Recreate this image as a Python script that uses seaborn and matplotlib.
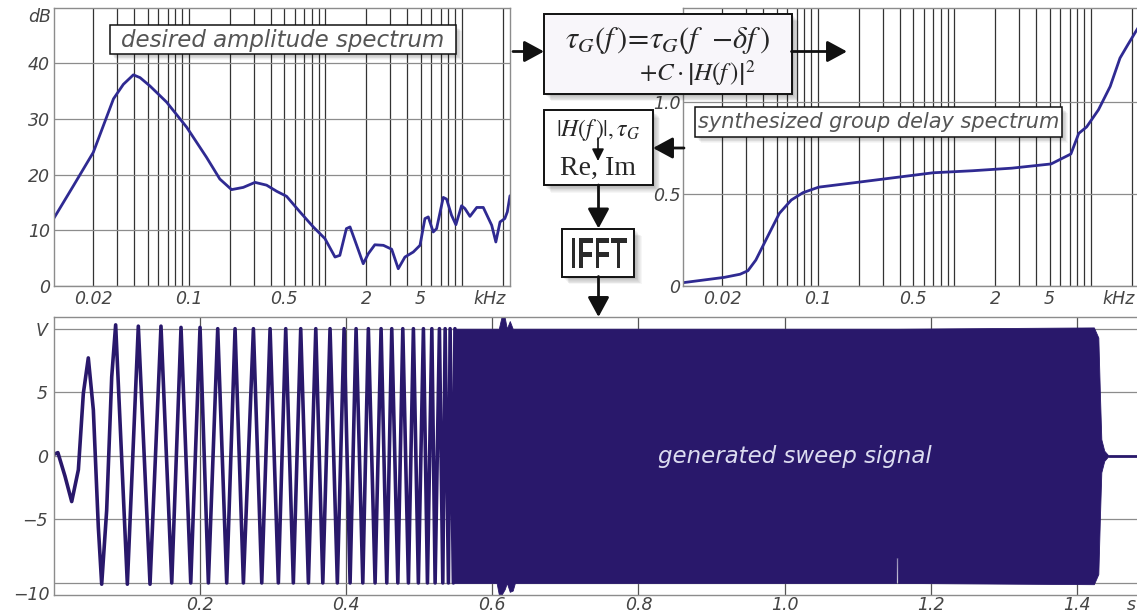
import matplotlib
matplotlib.use("Agg")
import matplotlib.pyplot as plt
import matplotlib.ticker as mticker
from matplotlib.patches import Rectangle, PathPatch
from matplotlib.textpath import TextPath
from matplotlib.font_manager import FontProperties
from matplotlib.transforms import Affine2D
import numpy as np
import seaborn as sns

# desired amplitude spectrum (kHz, dB)
amp_freq = [0.0103, 0.0143, 0.020, 0.0281, 0.0332, 0.0393, 0.044, 0.052, 0.0689, 0.0966,
            0.135, 0.169, 0.206, 0.251, 0.306, 0.372, 0.441, 0.521, 0.653, 0.818,
            0.996, 1.18, 1.28, 1.43, 1.52, 1.65, 1.90, 2.07, 2.31, 2.67,
            3.07, 3.43, 3.84, 4.42, 4.95, 5.38, 5.69, 6.19, 6.55, 7.33,
            7.75, 8.43, 9.07, 9.98, 10.56, 11.5, 12.9, 14.4, 16.6, 17.8,
            19.1, 20.7, 21.6, 22.6]
amp_db = [12.2, 18.0, 24.0, 33.6, 36.2, 37.9, 37.4, 35.9, 33.0, 28.5,
          23.1, 19.2, 17.3, 17.7, 18.6, 18.1, 17.0, 16.1, 13.3, 10.6,
          8.5, 5.2, 5.5, 10.3, 10.6, 8.2, 4.0, 5.8, 7.4, 7.3,
          6.6, 3.1, 5.2, 6.1, 7.3, 12.1, 12.4, 9.7, 10.3, 15.9,
          15.6, 12.7, 11.0, 14.4, 13.9, 12.5, 14.1, 14.1, 10.9, 7.9,
          11.5, 12.1, 13.3, 16.2]

# synthesized group delay spectrum (kHz, s)
gd_freq = [0.0103, 0.0207, 0.0270, 0.0308, 0.0352, 0.0429, 0.0524, 0.0640, 0.0780, 0.1018,
           0.1854, 0.360, 0.700, 1.36, 2.64, 5.13, 7.16, 8.18, 9.34, 11.4,
           13.9, 16.4, 18.7, 21.4, 22.6]
gd_delay = [0.018, 0.047, 0.064, 0.083, 0.141, 0.268, 0.395, 0.467, 0.507, 0.537,
            0.561, 0.588, 0.615, 0.626, 0.640, 0.663, 0.717, 0.829, 0.864, 0.957,
            1.084, 1.238, 1.310, 1.382, 1.41]

# generated sweep: resolved oscillation extrema (s, V)
sweep_t = [0.0, 0.006, 0.0157, 0.0249, 0.034, 0.0408, 0.0476, 0.0545, 0.0613, 0.0659,
           0.0727, 0.0796, 0.085, 0.101, 0.116, 0.132, 0.147, 0.1617, 0.1744, 0.1877,
           0.2004, 0.2118, 0.2246, 0.2369, 0.2483, 0.2597, 0.2734, 0.2848, 0.2962, 0.3075,
           0.3176, 0.3280, 0.3381, 0.3486, 0.3587, 0.3683, 0.3782, 0.3882, 0.3974, 0.4056,
           0.4138, 0.4230, 0.4306, 0.4398, 0.4480, 0.4558, 0.4626, 0.4709, 0.4777, 0.4854,
           0.4922, 0.4990, 0.5059, 0.5114, 0.5174, 0.5219, 0.5278, 0.5324, 0.5356, 0.5401,
           0.5424, 0.5469, 0.549]
sweep_v = [0.1, 0.25, -1.6, -3.6, -1.1, 4.9, 7.7, 3.6, -5.6, -10.1,
           -4.3, 6.2, 10.3, -10.1, 10.2, -10.1, 10.2, -10.0, 10.1, -10.0,
           10.1, -10.0, 10.0, -10.0, 10.0, -10.0, 10.0, -10.0, 10.0, -10.0,
           10.0, -10.0, 10.0, -10.0, 10.0, -10.0, 10.0, -10.0, 10.0, -10.0,
           10.0, -10.0, 10.0, -10.0, 10.0, -10.0, 10.0, -10.0, 10.0, -10.0,
           10.0, -10.0, 10.0, -10.0, 10.0, -10.0, 10.0, -10.0, 10.0, -10.0,
           10.0, -10.0, 10.0]

# generated sweep: envelope of the unresolved part (s, V)
env_t = [0.5475, 0.606, 0.609, 0.613, 0.617, 0.620, 0.624, 0.628, 0.631, 1.1525,
         1.1527, 1.1545, 1.1547, 1.4228, 1.4289, 1.4310, 1.4330, 1.4370, 1.443]
env_hi = [10.0, 10.0, 10.0, 11.0, 10.9, 10.0, 10.6, 10.0, 10.0, 10.0,
          10.0, 10.0, 10.0, 10.1, 9.3, 5.0, 1.3, 0.4, 0.0]
env_lo = [-10.0, -10.0, -10.9, -10.9, -10.5, -10.0, -10.7, -10.6, -10.0, -10.0,
          -8.0, -8.0, -10.0, -10.1, -9.3, -5.0, -1.3, -0.4, 0.0]
tail_t = [1.443, 1.49]
tail_v = [0.0, 0.0]

freq_ticks = [0.02, 0.1, 0.5, 2, 5, 16]
freq_labels = ["0.02", "0.1", "0.5", "2", "5", "kHz"]
db_ticks = [0, 10, 20, 30, 40]
db_labels = ["0", "10", "20", "30", "40"]
gd_ticks = [0, 0.5, 1.0]
gd_labels = ["0", "0.5", "1.0"]
time_grid = [0.2, 0.4, 0.6, 0.8, 1.0, 1.2, 1.4]
time_ticks = [0.2, 0.4, 0.6, 0.8, 1.0, 1.2, 1.4, 1.474]
time_labels = ["0.2", "0.4", "0.6", "0.8", "1.0", "1.2", "1.4", "s"]
volt_grid = [-10, -5, 0, 5, 10]
volt_ticks = [10, 5, 0, -5]
volt_labels = ["V", "5", "0", "\u22125"]

sns.set_style("white")
plt.rcParams["font.family"] = ["DejaVu Sans"]
plt.rcParams["mathtext.fontset"] = "stix"

W, H = 1137, 616
CURVE = "#2f2a92"
SWEEP = "#29186b"
LABEL = "#454545"
SPINE = "#8c8c8c"

fig = plt.figure(figsize=(W / 100, H / 100), dpi=100)


def px_axes(x0, y0, x1, y1):
    return fig.add_axes([x0 / W, 1 - y1 / H, (x1 - x0) / W, (y1 - y0) / H])


def frame(ax):
    for sp in ax.spines.values():
        sp.set_visible(True)
        sp.set_color(SPINE)
        sp.set_linewidth(1.0)
    ax.tick_params(which="both", length=0, labelsize=12.5, labelcolor=LABEL)
    ax.set_xlabel("")
    ax.set_ylabel("")
    ax.set_axisbelow(True)


def spectrum_axes(ax):
    ax.set_xscale("log")
    ax.set_xlim(0.0103, 22.6)
    ax.set_xticks(freq_ticks, freq_labels, fontstyle="italic")
    ax.xaxis.set_minor_locator(mticker.LogLocator(base=10, subs=np.arange(1, 10), numticks=60))
    ax.xaxis.set_minor_formatter(mticker.NullFormatter())
    ax.xaxis.remove_overlapping_locs = False
    ax.grid(False)
    ax.grid(which="minor", axis="x", color="#333333", lw=0.9)
    ax.grid(which="major", axis="y", color=SPINE, lw=0.9)
    frame(ax)
    ax.tick_params(axis="x", pad=3)
    ax.tick_params(axis="y", pad=3)


# top left: desired amplitude spectrum
axl = px_axes(54, 8, 510, 286)
spectrum_axes(axl)
sns.lineplot(x=amp_freq, y=amp_db, ax=axl, color=CURVE, lw=2.0, estimator=None)
axl.set_ylim(0, 49.9)
axl.set_yticks(db_ticks, db_labels, fontstyle="italic")
axl.set_xlim(0.0103, 22.6)
axl.annotate("dB", xy=(0, 48.2), xycoords=("axes fraction", "data"), xytext=(-2, 0),
             textcoords="offset points", ha="right", va="center", fontsize=12.5,
             color=LABEL, fontstyle="italic")

# top right: synthesized group delay
axr = px_axes(683, 8, 1139, 286)
spectrum_axes(axr)
sns.lineplot(x=gd_freq, y=gd_delay, ax=axr, color=CURVE, lw=2.0, estimator=None)
axr.set_ylim(0, 1.51)
axr.set_yticks(gd_ticks, gd_labels, fontstyle="italic")
axr.set_xlim(0.0103, 22.6)
axr.tick_params(axis="y", pad=2)

# bottom: generated sweep signal
axb = px_axes(53.5, 317, 1143, 595)
axb.set_xlim(0, 1.49)
axb.set_ylim(-10.95, 10.92)
axb.set_xticks(time_ticks, time_labels, fontstyle="italic")
axb.xaxis.set_minor_locator(mticker.FixedLocator(time_grid))
axb.xaxis.remove_overlapping_locs = False
axb.set_yticks(volt_ticks, volt_labels, fontstyle="italic")
axb.yaxis.set_minor_locator(mticker.FixedLocator(volt_grid))
axb.yaxis.remove_overlapping_locs = False
axb.grid(False)
axb.grid(which="minor", axis="x", color="#555555", lw=0.9)
axb.grid(which="minor", axis="y", color=SPINE, lw=0.9)
frame(axb)
axb.tick_params(axis="x", pad=1)
axb.tick_params(axis="y", pad=4)
sns.lineplot(x=sweep_t, y=sweep_v, ax=axb, color=SWEEP, lw=2.6, estimator=None, sort=False)
axb.fill_between(env_t, env_lo, env_hi, color=SWEEP, lw=0.6, ec=SWEEP)
sns.lineplot(x=tail_t, y=tail_v, ax=axb, color=SWEEP, lw=2.0, estimator=None)
axb.set_xlim(0, 1.49)
axb.set_ylim(-10.95, 10.92)
axb.set_xlabel("")
axb.set_ylabel("")
axb.annotate("\u221210", xy=(0, -10.95), xycoords=("axes fraction", "data"), xytext=(-3, 0),
             textcoords="offset points", ha="right", va="center", fontsize=12.5,
             color=LABEL, fontstyle="italic")

# overlay in pixel coordinates for the block diagram and captions
ov = fig.add_axes([0, 0, 1, 1])
ov.set_xlim(0, W)
ov.set_ylim(H, 0)
ov.axis("off")
ov.set_zorder(5)


def shadow(x0, y0, x1, y1, depth=8):
    for k in range(depth):
        ov.add_patch(Rectangle((x0 + 2 + k * 0.8, y0 + 2 + k * 0.8), x1 - x0, y1 - y0,
                               fc="black", alpha=0.035, ec="none", lw=0))


def box(x0, y0, x1, y1, fc="white", lw=1.4, depth=8):
    shadow(x0, y0, x1, y1, depth)
    ov.add_patch(Rectangle((x0, y0), x1 - x0, y1 - y0, fc=fc, ec="#111111", lw=lw))


def arrow(x0, y0, x1, y1, lw=2.0, hl=1.2, hw=0.65, ms=10):
    ov.annotate("", xy=(x1, y1), xytext=(x0, y0),
                arrowprops=dict(arrowstyle=f"-|>,head_length={hl},head_width={hw}",
                                lw=lw, color="#111111", shrinkA=0, shrinkB=0,
                                mutation_scale=ms))


# caption boxes
box(110, 25, 456, 54, lw=1.1, depth=6)
ov.text(283, 40, "desired amplitude spectrum", fontsize=16.5, fontstyle="italic",
        color="#555555", ha="center", va="center")
box(695, 107, 1062, 137, lw=1.1, depth=6)
ov.text(878.5, 122, "synthesized group delay spectrum", fontsize=15, fontstyle="italic",
        color="#555555", ha="center", va="center")
ov.text(795, 457, "generated sweep signal", fontsize=16.5, fontstyle="italic",
        color="#dcdcf0", ha="center", va="center")

# formula box
box(543.5, 13.5, 791.5, 93.5, fc="#f8f6fa")
ov.text(667, 41, r"$\tau_G(f\,)\!=\!\tau_G(f\;\,-\!\delta f\,)$", fontsize=22,
        ha="center", va="center")
ov.text(697, 73, r"$+C\cdot\left|H(f\,)\right|^2$", fontsize=18, ha="center", va="center")

# conversion box
box(543.5, 110, 652.5, 185)
ov.text(598, 130, r"$|H(f\,)|,\tau_G$", fontsize=17, ha="center", va="center")
ov.text(598, 168, "Re, Im", fontsize=20, family="Liberation Serif", ha="center", va="center")
arrow(598, 138, 598, 161, lw=1.2, hl=0.9, hw=0.45, ms=8)

# IFFT box with condensed lettering
box(561.5, 228.5, 634, 276.5)
tp = TextPath((0, 0), "IFFT", size=1,
              prop=FontProperties(family="Liberation Sans", weight="bold"))
ext = tp.get_extents()
tr = (Affine2D().translate(-ext.x0 - ext.width / 2, -ext.y0 - ext.height / 2)
      .scale(55 / ext.width, -30 / ext.height).translate(599, 253.3))
ov.add_patch(PathPatch(tr.transform_path(tp), fc="#2a2a2a", ec="none"))

# flow arrows
arrow(513, 51.5, 544, 51.5)
arrow(791.5, 51.5, 847, 51.5)
arrow(684, 148, 653, 148)
arrow(598.5, 185, 598.5, 228.5)
arrow(598.5, 276.5, 598.5, 317)

fig.savefig("out.png", dpi=100)
plt.close(fig)
